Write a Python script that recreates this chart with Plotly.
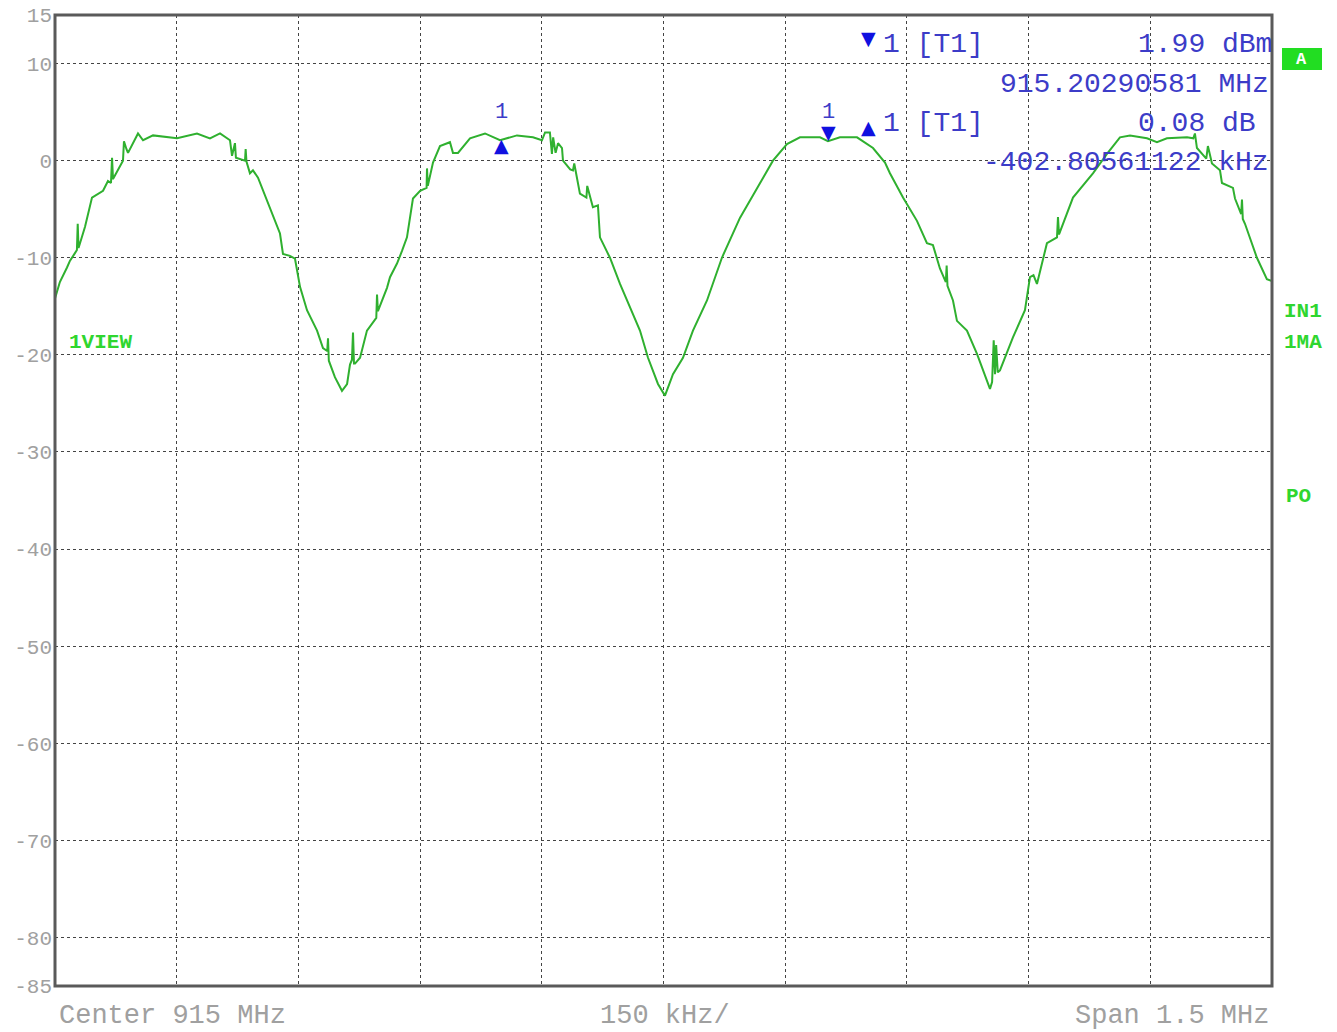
import plotly.graph_objects as go

# ---------------- data ----------------
center_mhz = 915.0
span_mhz = 1.5
div_khz = 150

# trace: frequency offset from start of span (kHz) and level (dBm)
trace_khz = [0, 6, 14.8, 18.5, 24, 27, 28, 29, 30.8, 37, 45.6, 59.2, 65.3, 69, 70.3, 71.5, 83.8, 85, 88, 90,
             102.3, 108.5, 120.8, 150.4, 175, 191, 203.4, 215.7, 218.2, 221.8, 223, 234.2, 235, 236, 240.3,
             244, 250.2, 265, 277.3, 281, 289.6, 295.8, 302, 310.6, 323, 330.3, 335.5, 336.5, 337.5, 345,
             353.7, 360, 363.6, 366, 367.3, 368.5, 369.8, 376, 384.5, 396, 396.9, 398, 409.2, 412.9, 421.5,
             427.7, 433.8, 441.2, 450, 458, 458.5, 459.5, 465.9, 474.5, 486.8, 490.5, 496.7, 511.5, 530,
             548.5, 569.4, 589.1, 600.2, 604, 610, 612.5, 614, 617, 620, 624.9, 626.1, 635, 638.4, 640,
             647, 655, 656, 663, 669.2, 671.7, 684, 696.4, 712.4, 721, 730.9, 743.2, 751.8, 761.7, 774,
             786.3, 803.6, 822, 844.2, 865.2, 884.9, 902.2, 918.2, 942.9, 952.7, 967.5, 988.5, 1008.2,
             1023, 1029.1, 1045.2, 1062.4, 1074.7, 1082.1, 1090.7, 1098, 1099, 1100, 1106.8, 1111.7, 1124,
             1136.4, 1152.4, 1155, 1157, 1158.6, 1160, 1162, 1164.7, 1180.7, 1195.5, 1201.7, 1206, 1210.3,
             1217.7, 1222.6, 1235, 1236.2, 1237.5, 1254.7, 1279.3, 1296.6, 1312.6, 1325, 1345.9, 1358.2,
             1370.5, 1395.2, 1403, 1405, 1407.5, 1419, 1421, 1426, 1435.9, 1438.3, 1451.9, 1454.4, 1462,
             1463, 1464, 1466.7, 1481.4, 1493.7, 1500]
trace_dbm = [-14.2, -12.5, -11.0, -10.3, -9.6, -9.2, -6.5, -9.0, -8.5, -6.8, -3.8, -3.1, -2.1, -2.3, 0.3, -1.9,
             0.0, 2.0, 1.2, 0.8, 2.8, 2.1, 2.6, 2.3, 2.8, 2.3, 2.8, 2.1, 0.5, 1.8, 0.3, 0.0, 1.2, -0.1, -1.3,
             -1.0, -1.75, -4.8, -7.5, -9.6, -9.8, -10.1, -13.0, -15.4, -17.5, -19.3, -19.6, -18.3, -20.6,
             -22.3, -23.7, -23.0, -21.0, -20.5, -17.7, -20.9, -20.9, -20.3, -17.5, -16.2, -13.8, -15.5,
             -13.1, -12.0, -10.6, -9.3, -7.9, -3.9, -3.1, -2.8, -0.8, -2.6, -0.2, 1.5, 1.9, 0.8, 0.8, 2.3,
             2.8, 2.1, 2.6, 2.4, 2.1, 2.9, 2.9, 0.7, 2.4, 0.8, 1.8, 1.3, 0.0, -0.9, -1.0, -0.3, -3.4, -3.8,
             -2.6, -4.8, -4.6, -7.9, -10.0, -12.7, -15.8, -17.5, -20.3, -23.0, -24.2, -22.0, -20.3, -17.5,
             -14.4, -10.0, -5.9, -2.8, 0.0, 1.7, 2.4, 2.4, 2.0, 2.4, 2.4, 1.3, -0.2, -1.3, -3.8, -6.2,
             -8.5, -8.7, -11.1, -12.5, -10.8, -12.9, -14.4, -16.5, -17.5, -19.9, -23.5, -22.8, -18.5,
             -22.0, -19.0, -21.8, -21.6, -18.2, -15.4, -12.0, -11.8, -12.7, -10.3, -8.5, -7.9, -5.8, -7.6,
             -3.8, -1.3, 0.7, 2.4, 2.6, 2.3, 1.9, 2.3, 2.4, 2.3, 2.8, 1.3, 0.2, 1.5, -0.3, -1.0, -2.3, -2.8,
             -3.9, -5.5, -4.0, -6.0, -6.5, -10.0, -12.2, -12.4]

# marker readouts
m1_freq_mhz = 915.20290581
m1_level_dbm = 1.99
d1_offset_khz = -402.80561122
d1_delta_db = 0.08

# y axis ticks
y_tickvals = [15, 10, 0, -10, -20, -30, -40, -50, -60, -70, -80, -85]
y_ticktext = ["15", "10", "0", "-10", "-20", "-30", "-40", "-50", "-60", "-70", "-80", "-85"]
y_grid = [10, 0, -10, -20, -30, -40, -50, -60, -70, -80]

# ---------------- figure ----------------
OFF = 8  # page body margin
PAGE_W, PAGE_H = 1337, 1032
PL, PR, PT, PB = 55, 1272, 15, 986  # plot area in page pixels
W, H = PAGE_W - OFF, PAGE_H - OFF
L, T = PL - OFF, PT - OFF
R = W - (PR - OFF)
B = H - (PB - OFF)
PW, PH = PR - PL, PB - PT

def px(x):
    return (x - PL) / PW

def py(y):
    return (PB - y) / PH

start = center_mhz - span_mhz / 2
stop = center_mhz + span_mhz / 2
freqs = [start + k / 1000.0 for k in trace_khz]

mono = "Liberation Mono"
blue = "#3c3cc8"
mblue = "#1010e0"
green_txt = "#2fd62f"
gray_txt = "#a0a0a0"

fig = go.Figure()
fig.add_trace(go.Scatter(x=freqs, y=trace_dbm, mode="lines",
                         line=dict(color="#2fb02f", width=2), hoverinfo="skip"))

xticks = [start + i * div_khz / 1000.0 for i in range(int(round(span_mhz * 1000 / div_khz)) + 1)]

fig.update_layout(
    width=W, height=H, margin=dict(l=L, r=R, t=T, b=B, autoexpand=False),
    paper_bgcolor="white", plot_bgcolor="white", showlegend=False,
    xaxis=dict(range=[start, stop], tickvals=xticks, showticklabels=False, ticks="",
               showgrid=True, gridcolor="#444", gridwidth=1, griddash="dot", automargin=False,
               zeroline=False, showline=False, fixedrange=True),
    yaxis=dict(range=[-85, 15], tickvals=y_grid, showticklabels=False, ticks="", automargin=False,
               showgrid=True, gridcolor="#444", gridwidth=1, griddash="dot",
               zeroline=False, showline=False, fixedrange=True),
    yaxis2=dict(range=[-85, 15], overlaying="y", side="left", tickvals=y_tickvals, automargin=False,
                ticktext=y_ticktext, showgrid=False, zeroline=False, ticks="", ticklabelstandoff=2,
                ticklabeloverflow="allow",
                tickfont=dict(family=mono, size=21, color=gray_txt), fixedrange=True),
)
# dummy trace to show the y2 tick labels
fig.add_trace(go.Scatter(x=[start], y=[-85], yaxis="y2", mode="markers",
                         marker=dict(size=1, color="rgba(0,0,0,0)"), hoverinfo="skip"))

# plot border
fig.add_shape(type="rect", xref="paper", yref="paper", x0=0, x1=1, y0=0, y1=1,
              line=dict(color="#5a5a5a", width=3), layer="above")
# green A box
fig.add_shape(type="rect", xref="paper", yref="paper", x0=px(1282), x1=px(1322), y0=py(70), y1=py(48),
              line=dict(width=0), fillcolor="#22dd22")

ann = []
def text(x, y, s, size=28, color=blue, xanchor="left", bold=False, family=mono):
    ann.append(dict(xref="paper", yref="paper", x=px(x), y=py(y), text=("<b>%s</b>" % s) if bold else s,
                    showarrow=False, xanchor=xanchor, yanchor="middle",
                    font=dict(family=family, size=size, color=color)))

text(1302, 59, "A", size=17, color="white", xanchor="center", bold=True)

# bottom labels
text(57, 1016, "Center %g MHz" % center_mhz, size=27, color=gray_txt)
text(598, 1016, "%g kHz/" % div_khz, size=27, color=gray_txt)
text(1271, 1016, "Span %g MHz" % span_mhz, size=27, color=gray_txt, xanchor="right")

# green side labels
text(67, 343, "1VIEW", size=21, color=green_txt, bold=True)
text(1282, 311, "IN1", size=21, color=green_txt, bold=True)
text(1282, 343, "1MA", size=21, color=green_txt, bold=True)
text(1284, 496, "PO", size=21, color=green_txt, bold=True)

# marker readouts
text(868, 38, "▼", size=19, color=mblue, xanchor="center", family="DejaVu Sans")
text(881, 45, "1 [T1]", size=28)
text(1136, 45, "%.2f dBm" % m1_level_dbm, size=28)
text(1271, 84, "%.8f MHz" % m1_freq_mhz, size=28, xanchor="right")
text(868, 127, "▲", size=19, color=mblue, xanchor="center", family="DejaVu Sans")
text(881, 123, "1 [T1]", size=28)
text(1136, 123, "%.2f dB" % d1_delta_db, size=28)
text(1271, 162, "%.8f kHz" % d1_offset_khz, size=28, xanchor="right")

# markers on the trace
d1_freq = m1_freq_mhz + d1_offset_khz / 1000.0
d1_level = m1_level_dbm + d1_delta_db
ann.append(dict(x=d1_freq, y=d1_level, xref="x", yref="y", text="▲", showarrow=False,
                yanchor="top", yshift=9, font=dict(family="DejaVu Sans", size=19, color=mblue)))
ann.append(dict(x=d1_freq, y=d1_level, xref="x", yref="y", text="1", showarrow=False,
                yanchor="bottom", yshift=14, font=dict(family=mono, size=22, color=blue)))
ann.append(dict(x=m1_freq_mhz, y=m1_level_dbm, xref="x", yref="y", text="▼", showarrow=False,
                yanchor="bottom", yshift=-4, font=dict(family="DejaVu Sans", size=19, color=mblue)))
ann.append(dict(x=m1_freq_mhz, y=m1_level_dbm, xref="x", yref="y", text="1", showarrow=False,
                yanchor="bottom", yshift=14, font=dict(family=mono, size=22, color=blue)))

fig.update_layout(annotations=ann)
fig.write_html("out.html")
